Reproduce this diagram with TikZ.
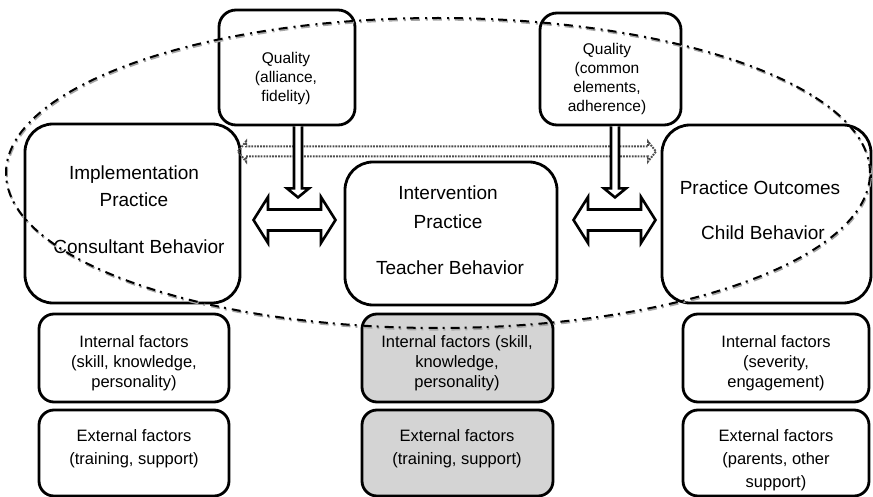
\documentclass[tikz,border=0pt]{standalone}
\usepackage{fontspec}
\setmainfont{Liberation Sans}
\begin{document}
\begin{tikzpicture}[x=1pt,y=-1pt,
  box/.style={draw=black, line width=2.8pt, inner sep=0pt, rectangle},
  mainbox/.style={box, rounded corners=28pt},
  qualbox/.style={box, rounded corners=17pt},
  factorbox/.style={box, rounded corners=15pt},
  shaded/.style={fill=black!17},
  maintext/.style={align=center, inner sep=0pt, font=\fontsize{19}{27}\selectfont},
  qualtext/.style={align=center, inner sep=0pt, font=\fontsize{15.5}{18.8}\selectfont},
  factortext/.style={align=center, inner sep=0pt, font=\fontsize{16.5}{20}\selectfont},
  blockarrow/.style={draw=black, fill=white, line width=2.6pt, line join=miter},
  dotarrow/.style={draw=black!70, line width=2pt, dash pattern=on 1.8pt off 1.1pt},
  loop/.style={draw=black, line width=2pt, dash pattern=on 9pt off 5pt on 2pt off 6pt},
  loopshadow/.style={draw=black!35, line width=2.2pt, dash pattern=on 9pt off 5pt on 2pt off 6pt}]
\useasboundingbox (0,0) rectangle (873,497);

% quality boxes on top
\node[qualbox, minimum width=136pt, minimum height=115pt] (qL) at (287,67.5) {};
\node[qualbox, minimum width=141pt, minimum height=112pt] (qR) at (610.5,69) {};
\node[qualtext] (qLt) at (286,78.5) {Quality\\(alliance,\\fidelity)};
\node[qualtext] (qRt) at (607,79) {Quality\\(common\\elements,\\adherence)};

% main practice boxes
\node[mainbox, minimum width=215pt, minimum height=179pt] (ip) at (132.5,213.5) {};
\node[mainbox, minimum width=212pt, minimum height=143pt] (iv) at (451,233.5) {};
\node[mainbox, minimum width=209pt, minimum height=178pt] (po) at (766.5,214) {};

\node[maintext] (ipA) at (134,186.5) {Implementation\\Practice};
\node[maintext] (ipB) at (139,247) {Consultant Behavior};
\node[maintext, font=\fontsize{19}{29}\selectfont] (ivA) at (448,207.5) {Intervention\\Practice};
\node[maintext] (ivB) at (450,268) {Teacher Behavior};
\node[maintext] (poA) at (760,188) {Practice Outcomes};
\node[maintext] (poB) at (763,233) {Child Behavior};

% factor boxes
\node[factorbox, minimum width=190pt, minimum height=88pt] (lInt) at (134,358) {};
\node[factorbox, minimum width=190pt, minimum height=86pt] (lExt) at (134,453) {};
\node[factorbox, shaded, minimum width=191pt, minimum height=88pt] (mInt) at (457.5,358) {};
\node[factorbox, shaded, minimum width=191pt, minimum height=86pt] (mExt) at (457.5,453) {};
\node[factorbox, minimum width=186pt, minimum height=88pt] (rInt) at (776,358) {};
\node[factorbox, minimum width=186pt, minimum height=86pt] (rExt) at (776,453) {};

\node[factortext] (lIntT) at (134,363) {Internal factors\\(skill, knowledge,\\personality)};
\node[factortext, font=\fontsize{16.5}{23}\selectfont] (lExtT) at (134,448.5) {External factors\\(training, support)};
\node[factortext] (mIntT) at (457,363) {Internal factors (skill,\\knowledge,\\personality)};
\node[factortext, font=\fontsize{16.5}{23}\selectfont] (mExtT) at (457,448.5) {External factors\\(training, support)};
\node[factortext] (rIntT) at (776,363) {Internal factors\\(severity,\\engagement)};
\node[factortext, font=\fontsize{16.5}{23}\selectfont] (rExtT) at (776,460) {External factors\\(parents, other\\support)};

% dotted hollow double arrow from implementation to outcomes
\draw[dotarrow] (238,151.5) -- (246,141.5) -- (246,146.5) -- (648,146.5) -- (648,141.5)
  -- (656,151.5) -- (648,161.5) -- (648,156.5) -- (246,156.5) -- (246,161.5) -- cycle;

% quality feeds into the links
\draw[blockarrow] ([xshift=7pt]qL.south) -- ++(0,62) -- ++(-7,0) -- ++(11,9)
  -- ++(11,-9) -- ++(-7,0) -- ++(0,-62);
\draw[blockarrow] ([xshift=0.5pt]qR.south) -- ++(0,62) -- ++(-7,0) -- ++(11,9)
  -- ++(11,-9) -- ++(-7,0) -- ++(0,-62);

% hollow double arrows between the practices
\draw[blockarrow] (253.5,220) -- (268,197) -- (268,209.5) -- (321,209.5) -- (321,197)
  -- (335.5,220) -- (321,243) -- (321,230.5) -- (268,230.5) -- (268,243) -- cycle;
\draw[blockarrow] (573.5,220) -- (588,197) -- (588,209.5) -- (641,209.5) -- (641,197)
  -- (655.5,220) -- (641,243) -- (641,230.5) -- (588,230.5) -- (588,243) -- cycle;

% dash-dot loop around the quality relations
\draw[loopshadow] (438.8,174.5) ellipse [x radius=432pt, y radius=155pt];
\draw[loop] (438,173) ellipse [x radius=432pt, y radius=155pt];
\end{tikzpicture}
\end{document}
